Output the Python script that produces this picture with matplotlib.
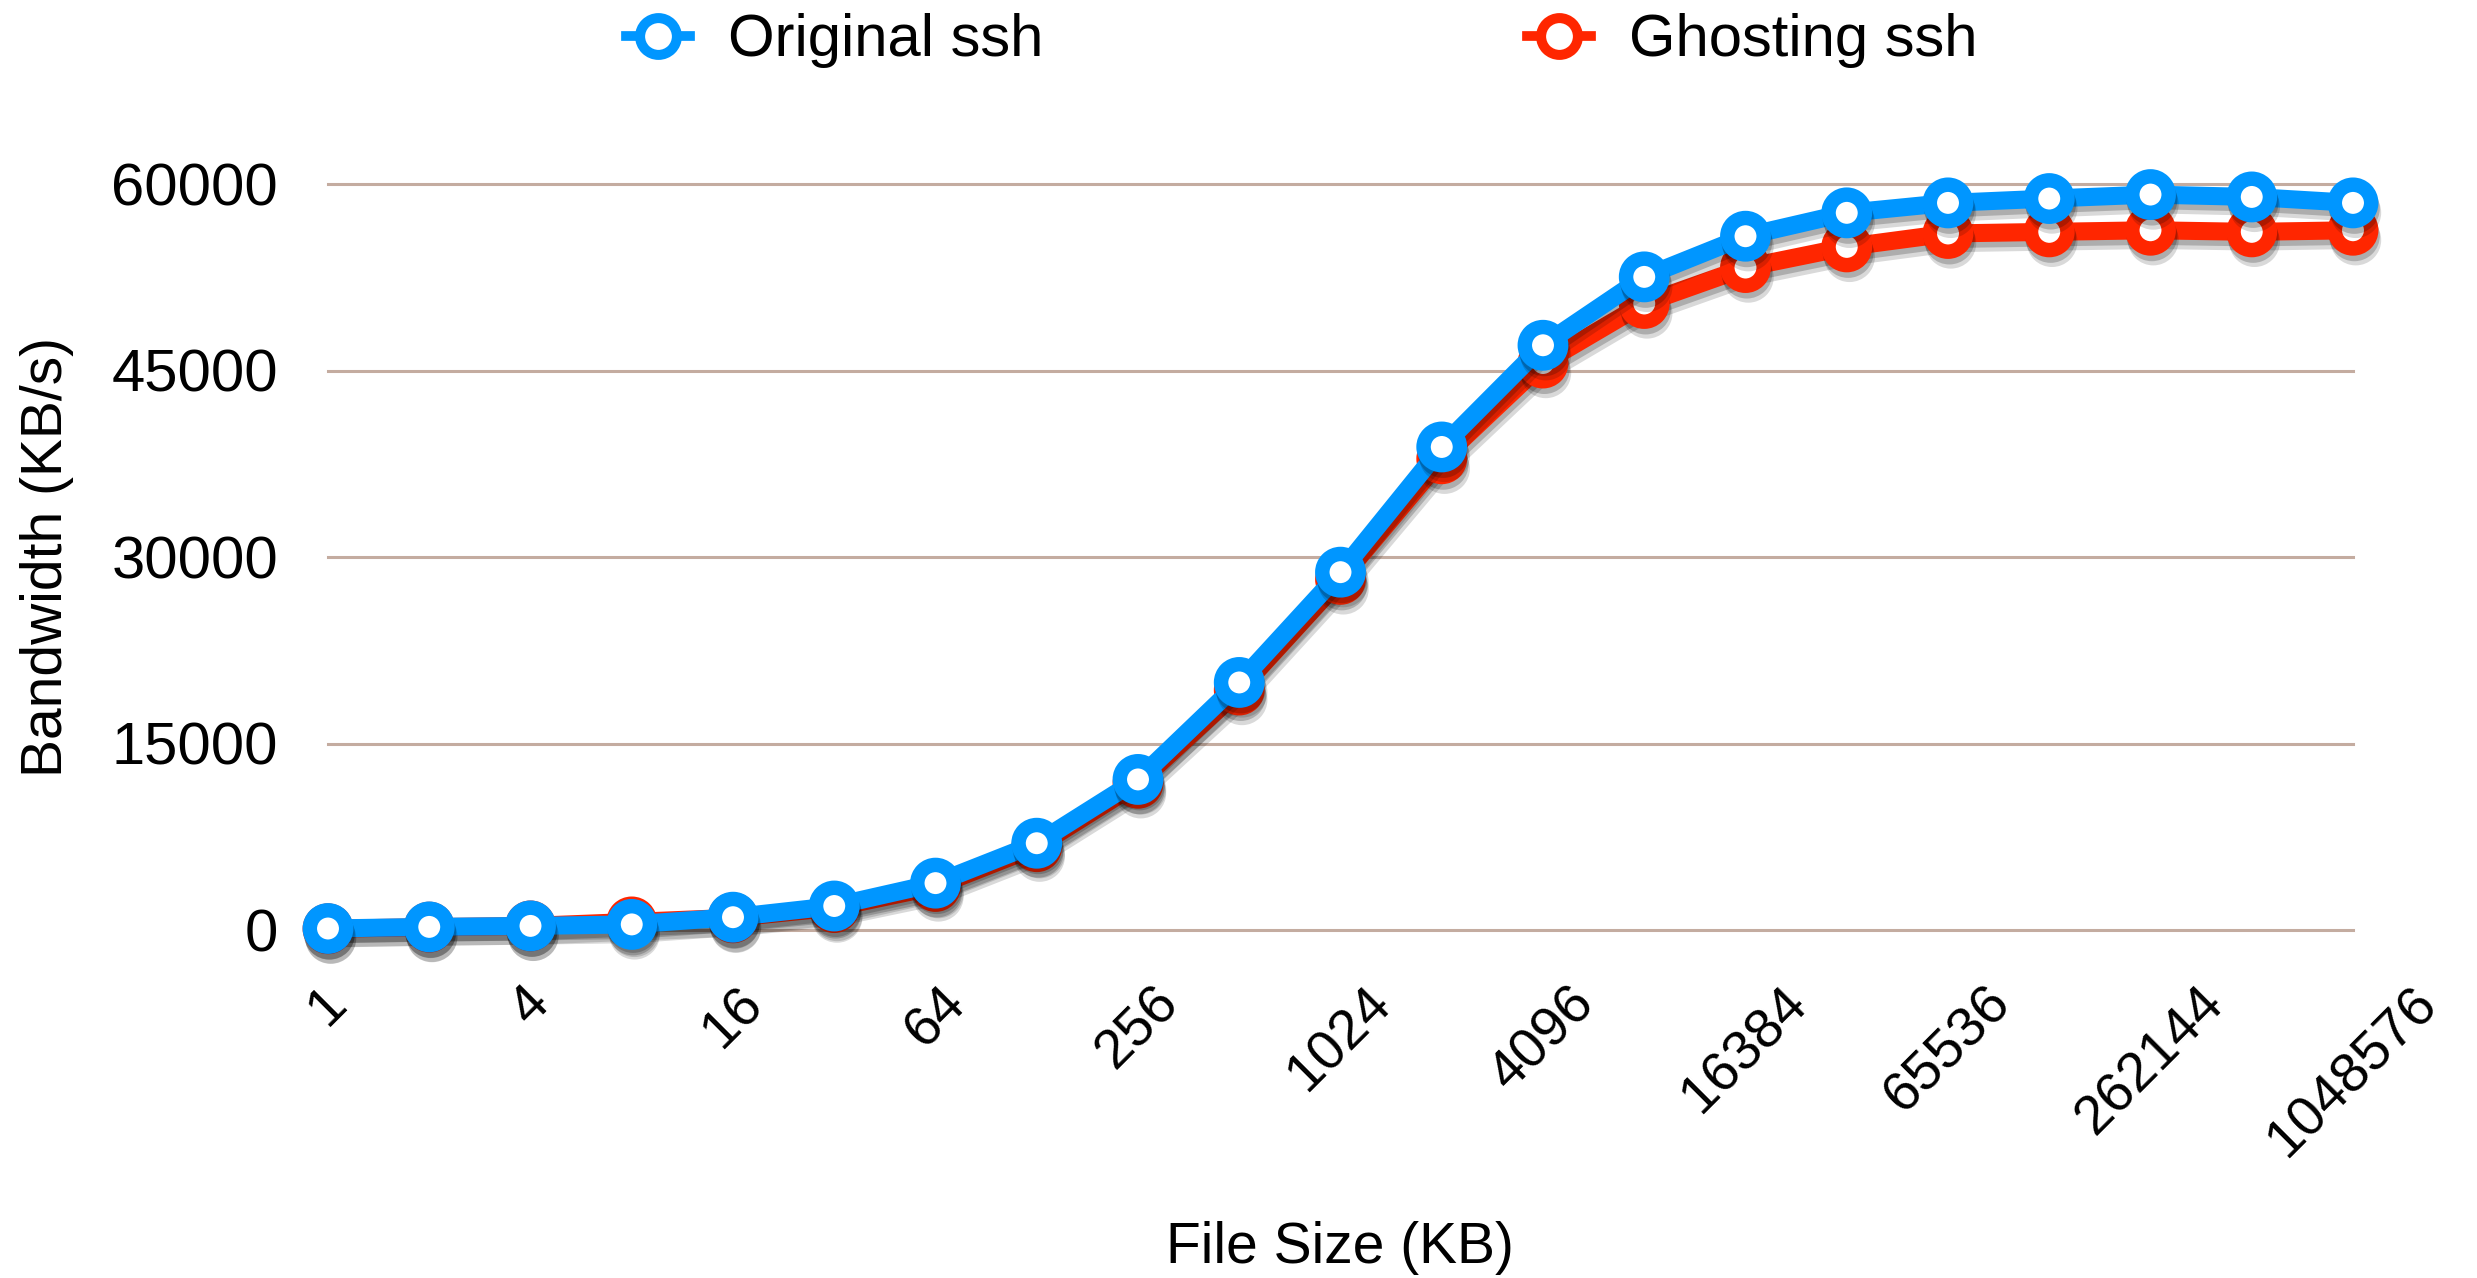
import matplotlib
matplotlib.use("Agg")
import matplotlib.pyplot as plt
import matplotlib.patheffects as pe
from matplotlib.lines import Line2D
from matplotlib.ticker import FixedLocator, NullLocator

plt.rcParams['font.family'] = ['Liberation Sans', 'DejaVu Sans']

# file sizes (KB) and measured bandwidth (KB/s)
file_sizes = [1, 2, 4, 8, 16, 32, 64, 128, 256, 512, 1024, 2048, 4096, 8192,
              16384, 32768, 65536, 131072, 262144, 524288, 1048576]
original_ssh = [120, 250, 330, 450, 1030, 1930, 3770, 6980, 12110, 19910, 28780,
                38850, 47030, 52530, 55800, 57680, 58480, 58830, 59150, 58960, 58480]
ghosting_ssh = [100, 230, 330, 650, 980, 1800, 3500, 6700, 11800, 19300, 28200,
                37900, 45600, 50390, 53280, 54940, 56020, 56150, 56280, 56150, 56280]
tick_sizes = file_sizes[::2]
tick_labels = [str(s) for s in tick_sizes]
y_ticks = [0, 15000, 30000, 45000, 60000]

BLUE = '#0096ff'
RED = '#ff2600'
GRID = '#c4aca0'

W, H = 2477, 1278
fig = plt.figure(figsize=(W / 100, H / 100), dpi=100)
ax = fig.add_axes([328 / W, 1 - 930 / H, (2353 - 328) / W, (930 - 184) / H])

# soft drop shadow under lines and markers
shadow = [pe.SimpleLineShadow(offset=(2, -7), shadow_color='black', alpha=0.15),
          pe.SimpleLineShadow(offset=(1, -4), shadow_color='black', alpha=0.2),
          pe.Normal()]
style = dict(lw=13, marker='o', ms=26.2, mew=10.4, mfc='white', clip_on=False,
             solid_joinstyle='round', path_effects=shadow)

ax.plot(file_sizes, ghosting_ssh, color=RED, mec=RED, zorder=3, **style)
ax.plot(file_sizes, original_ssh, color=BLUE, mec=BLUE, zorder=4, **style)

ax.set_xscale('log', base=2)
ax.set_xlim(file_sizes[0], file_sizes[-1])
ax.set_ylim(0, 60000)
ax.xaxis.set_major_locator(FixedLocator(tick_sizes))
ax.xaxis.set_minor_locator(NullLocator())
ax.set_xticklabels(tick_labels, rotation=45, ha='center', va='top', fontsize=40)
ax.set_yticks(y_ticks)
ax.set_yticklabels([str(v) for v in y_ticks], fontsize=43)
ax.tick_params(axis='x', length=0, pad=34)
ax.tick_params(axis='y', length=0, pad=36)

for s in ax.spines.values():
    s.set_visible(False)
ax.yaxis.grid(True, color=GRID, lw=2.2)
ax.xaxis.grid(False)
ax.set_axisbelow(True)
for gl in ax.get_ygridlines():
    gl.set_clip_on(False)

fig.text(47 / W, 1 - 557 / H, 'Bandwidth (KB/s)', rotation=90, ha='center', va='center', fontsize=41)
fig.text(1340 / W, 1 - 1248 / H, 'File Size (KB)', ha='center', va='center', fontsize=41)

# legend keys: thin stub through a ring
key = dict(lw=7, marker='o', ms=26.5, mew=7.2, mfc='white')
h_blue = Line2D([], [], color=BLUE, mec=BLUE, **key)
h_red = Line2D([], [], color=RED, mec=RED, **key)
ax.legend([h_blue, h_red], ['Original ssh', 'Ghosting ssh'], loc='center',
          bbox_to_anchor=(1302 / W, 1 - 41 / H), bbox_transform=fig.transFigure,
          ncol=2, frameon=False, fontsize=43, handlelength=1.07, handletextpad=0.64,
          columnspacing=8.1)

fig.savefig('out.png', dpi=100)
